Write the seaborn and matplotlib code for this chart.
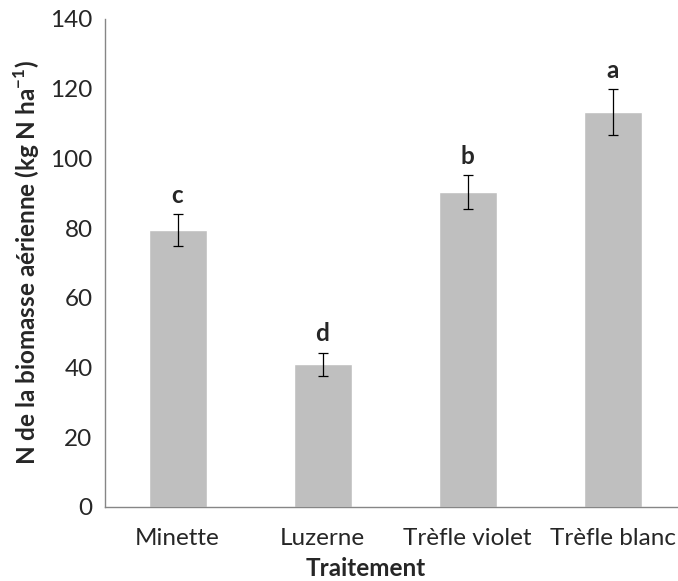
import numpy as np
import pandas as pd
import matplotlib
matplotlib.use("Agg")
import matplotlib.pyplot as plt
import seaborn as sns

# <--------------------------------------------> datos
traitements = ["Minette", "Luzerne", "Trèfle violet", "Trèfle blanc"]
azote = [79.5, 41.0, 90.4, 113.2]
erreur = [4.6, 3.3, 4.9, 6.6]
lettres = ["c", "d", "b", "a"]

df = pd.DataFrame({"Traitement": traitements, "N": azote})

sns.set_style("white")
plt.rcParams["font.family"] = ["Lato", "DejaVu Sans"]
plt.rcParams["mathtext.fontset"] = "custom"
plt.rcParams["mathtext.rm"] = "Lato"
plt.rcParams["mathtext.bf"] = "Lato:bold"

gris = "#868686"
fs = 17.5

fig = plt.figure(figsize=(6.78, 5.81), dpi=100)
# el eje x sigue un poco fuera de la imagen (recortada a la derecha)
ax = fig.add_axes([0.1549, 0.1274, 0.8555, 0.8399])

sns.barplot(data=df, x="Traitement", y="N", color="#BFBFBF", width=0.4,
            saturation=1, errorbar=None, ax=ax)
ax.errorbar(np.arange(len(azote)), azote, yerr=erreur, fmt="none",
            ecolor="black", elinewidth=0.9, capsize=3.6, capthick=0.9)

for i, (v, e, l) in enumerate(zip(azote, erreur, lettres)):
    ax.text(i, v + e + 3.2, l, ha="center", va="baseline",
            fontsize=fs, fontweight="bold")

# <--------------------------------------------> ejes
ax.set_ylim(0, 140)
ax.set_xlim(-0.5, 3.5)
ax.set_yticks(range(0, 141, 20))
ax.set_xticks(range(4))
ax.set_xticks(np.arange(-0.5, 3.6, 1), minor=True)
ax.tick_params(axis="x", which="major", length=0, pad=15, labelsize=fs)
ax.tick_params(axis="x", which="minor", length=6, color=gris, width=1)
ax.tick_params(axis="y", length=5, color=gris, width=1, labelsize=fs, pad=4)

for s in ["top", "right"]:
    ax.spines[s].set_visible(False)
for s in ["left", "bottom"]:
    ax.spines[s].set_color(gris)
    ax.spines[s].set_linewidth(1)

ax.set_xlabel("Traitement", fontsize=fs, fontweight="bold", labelpad=0)
ax.xaxis.set_label_coords(0.45, -0.103)
ax.set_ylabel(r"N de la biomasse aérienne (kg N ha$^{\mathbf{-1}}$)",
              fontsize=fs, fontweight="bold", labelpad=6)

fig.savefig("out.png", dpi=100)
